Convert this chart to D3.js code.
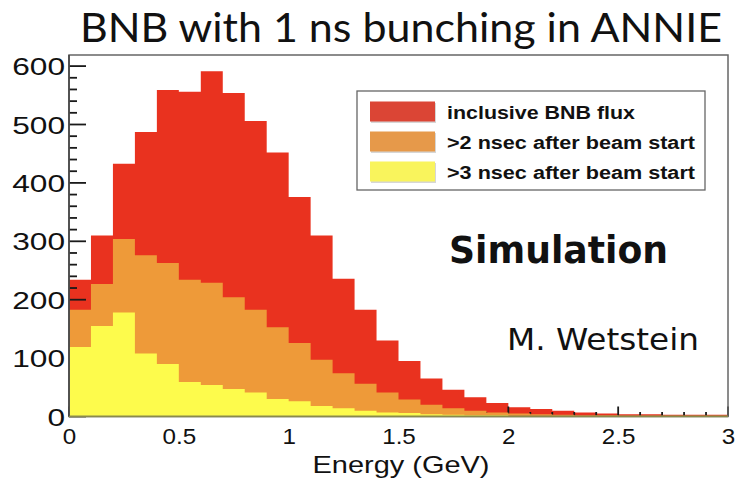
<!DOCTYPE html>
<html>
<head>
<meta charset="utf-8">
<script src="https://cdn.jsdelivr.net/npm/d3@7"></script>
<style>
  html, body { margin: 0; padding: 0; background: #fff; }
  svg { display: block; }
</style>
</head>
<body>
<svg id="chart" width="737" height="485"></svg>
<script>
// Neutrino energy histogram, 30 bins of 0.1 GeV from 0 to 3 GeV
const binEdgesStart = 0;
const binWidth = 0.1;
const inclusiveFlux = [234, 310, 433, 487, 559, 556, 591, 554, 506, 452,
                       376, 310, 236, 183, 130, 95, 65, 46, 33, 23,
                       16, 13, 10, 7, 5, 4, 4, 3, 3, 3];
const after2ns = [183, 227, 304, 276, 263, 234, 229, 204, 183, 153,
                  126, 97, 74, 56, 41, 29, 20, 14, 10, 7,
                  5, 4, 3, 2, 2, 1.5, 1.5, 1.5, 1.5, 1.5];
const after3ns = [119, 155, 178, 108, 90, 59, 54, 47, 41, 30,
                  26, 18, 14, 10, 7, 6, 4, 3, 2, 2,
                  1, 1, 1, 1, 1, 0.7, 0.7, 0.7, 0.7, 0.7];
const xTickLabels = [0, 0.5, 1, 1.5, 2, 2.5, 3];
const yTickLabels = [0, 100, 200, 300, 400, 500, 600];
const legendLabels = ["inclusive BNB flux", ">2 nsec after beam start", ">3 nsec after beam start"];

const colors = { red: "#e9321f", orange: "#ee9a39", yellow: "#fdfb4c" };
const legendColors = ["#db4535", "#e6994a", "#f9f45c"];

const svg = d3.select("#chart");
const plot = { left: 69, right: 728, top: 55, bottom: 416.5 };

const x = d3.scaleLinear().domain([0, 3]).range([plot.left, plot.right]);
const y = d3.scaleLinear().domain([0, 619]).range([plot.bottom, plot.top]);

// Step-shaped histogram outline from bin values
function histPath(values) {
  const pts = values.map((v, i) => ({ e: binEdgesStart + i * binWidth, v }));
  pts.push({ e: binEdgesStart + values.length * binWidth, v: values[values.length - 1] });
  return d3.area()
    .x(d => x(d.e))
    .y0(y(0))
    .y1(d => y(d.v))
    .curve(d3.curveStepAfter)(pts);
}

// Title
svg.append("text")
  .attr("x", 80).attr("y", 42)
  .attr("font-family", "Lato, 'Open Sans', sans-serif")
  .attr("font-size", 40)
  .attr("textLength", 642)
  .attr("lengthAdjust", "spacingAndGlyphs")
  .attr("fill", "#111")
  .text("BNB with 1 ns bunching in ANNIE");

// Inclusive flux first, then the axis ticks, then the later-time subsets over them
svg.append("path").attr("d", histPath(inclusiveFlux)).attr("fill", colors.red);

const tickColor = "#1a1a1a";
const ticks = svg.append("g").attr("stroke", tickColor).attr("stroke-width", 1.8);
const yMinorVals = d3.range(0, 620, 20);
ticks.selectAll("line.ytick")
  .data(yMinorVals)
  .join("line")
  .attr("class", "ytick")
  .attr("x1", plot.left)
  .attr("x2", d => plot.left + (d % 100 === 0 ? 17 : 8))
  .attr("y1", d => y(d))
  .attr("y2", d => y(d));
const xMinorVals = d3.range(0, 31).map(i => i / 10);
ticks.selectAll("line.xtick")
  .data(xMinorVals)
  .join("line")
  .attr("class", "xtick")
  .attr("x1", d => x(d))
  .attr("x2", d => x(d))
  .attr("y1", plot.bottom)
  .attr("y2", (d, i) => plot.bottom - (i % 5 === 0 ? 10 : 4.5));

svg.append("path").attr("d", histPath(after2ns)).attr("fill", colors.orange);
svg.append("path").attr("d", histPath(after3ns)).attr("fill", colors.yellow);

// Frame
svg.append("rect")
  .attr("x", plot.left).attr("y", plot.top)
  .attr("width", plot.right - plot.left).attr("height", plot.bottom - plot.top)
  .attr("fill", "none").attr("stroke", "#666").attr("stroke-width", 1.5);
svg.append("line")
  .attr("x1", plot.left).attr("x2", plot.left).attr("y1", plot.top).attr("y2", plot.bottom)
  .attr("stroke", "#444").attr("stroke-width", 1.6);
svg.append("line")
  .attr("x1", plot.left).attr("x2", plot.right).attr("y1", plot.bottom).attr("y2", plot.bottom)
  .attr("stroke", "#8a8a4a").attr("stroke-width", 1.6);

// Y tick labels
const yLab = svg.append("g").attr("transform", `translate(65,0)`)
  .call(d3.axisLeft(y).tickValues(yTickLabels).tickSize(0).tickPadding(0).tickFormat(d3.format("d")));
yLab.select(".domain").remove();
yLab.selectAll("text")
  .attr("font-family", "'Liberation Sans', Arial, sans-serif")
  .attr("font-size", 24)
  .attr("fill", "#111")
  .attr("x", 0)
  .attr("dy", "0.36em")
  .attr("transform", "scale(1.32,1)");

// X tick labels
const xLab = svg.append("g").attr("transform", `translate(0,428)`)
  .call(d3.axisBottom(x).tickValues(xTickLabels).tickSize(0).tickPadding(0).tickFormat(d => d3.format("")(d)));
xLab.select(".domain").remove();
xLab.selectAll("text")
  .attr("font-family", "'Liberation Sans', Arial, sans-serif")
  .attr("font-size", 22)
  .attr("fill", "#111")
  .attr("y", 0)
  .attr("dy", "0.72em");
xLab.selectAll("text").attr("textLength", function() {
  return this.getComputedTextLength() * 1.1;
}).attr("lengthAdjust", "spacingAndGlyphs");

// Axis title
svg.append("text")
  .attr("x", 401).attr("y", 473)
  .attr("text-anchor", "middle")
  .attr("font-family", "'Liberation Sans', Arial, sans-serif")
  .attr("font-size", 24)
  .attr("textLength", 177)
  .attr("lengthAdjust", "spacingAndGlyphs")
  .attr("fill", "#111")
  .text("Energy (GeV)");

// Legend
const legend = svg.append("g");
legend.append("rect")
  .attr("x", 357).attr("y", 91).attr("width", 348).attr("height", 99)
  .attr("fill", "#fff").attr("stroke", "#666").attr("stroke-width", 1.3);
const legendTextLen = [188, 248, 248];
legendLabels.forEach((lab, i) => {
  const ry = 101.5 + i * 30;
  legend.append("rect")
    .attr("x", 371).attr("y", ry + 1.5).attr("width", 65).attr("height", 20)
    .attr("fill", "#bbb").attr("opacity", 0.6);
  legend.append("rect")
    .attr("x", 370).attr("y", ry).attr("width", 65).attr("height", 20)
    .attr("fill", legendColors[i]);
  legend.append("text")
    .attr("x", 447).attr("y", ry + 17)
    .attr("font-family", "'Liberation Sans', Arial, sans-serif")
    .attr("font-weight", "bold")
    .attr("font-size", 18)
    .attr("textLength", legendTextLen[i])
    .attr("lengthAdjust", "spacingAndGlyphs")
    .attr("fill", "#111")
    .text(lab);
});

// Annotations
svg.append("text")
  .attr("x", 449).attr("y", 263)
  .attr("font-family", "'DejaVu Sans', sans-serif")
  .attr("font-weight", "bold")
  .attr("font-size", 37)
  .attr("textLength", 219)
  .attr("lengthAdjust", "spacingAndGlyphs")
  .attr("fill", "#111")
  .text("Simulation");
svg.append("text")
  .attr("x", 507).attr("y", 350)
  .attr("font-family", "'DejaVu Sans', sans-serif")
  .attr("font-size", 31)
  .attr("textLength", 192)
  .attr("lengthAdjust", "spacingAndGlyphs")
  .attr("fill", "#111")
  .text("M. Wetstein");
</script>
</body>
</html>
